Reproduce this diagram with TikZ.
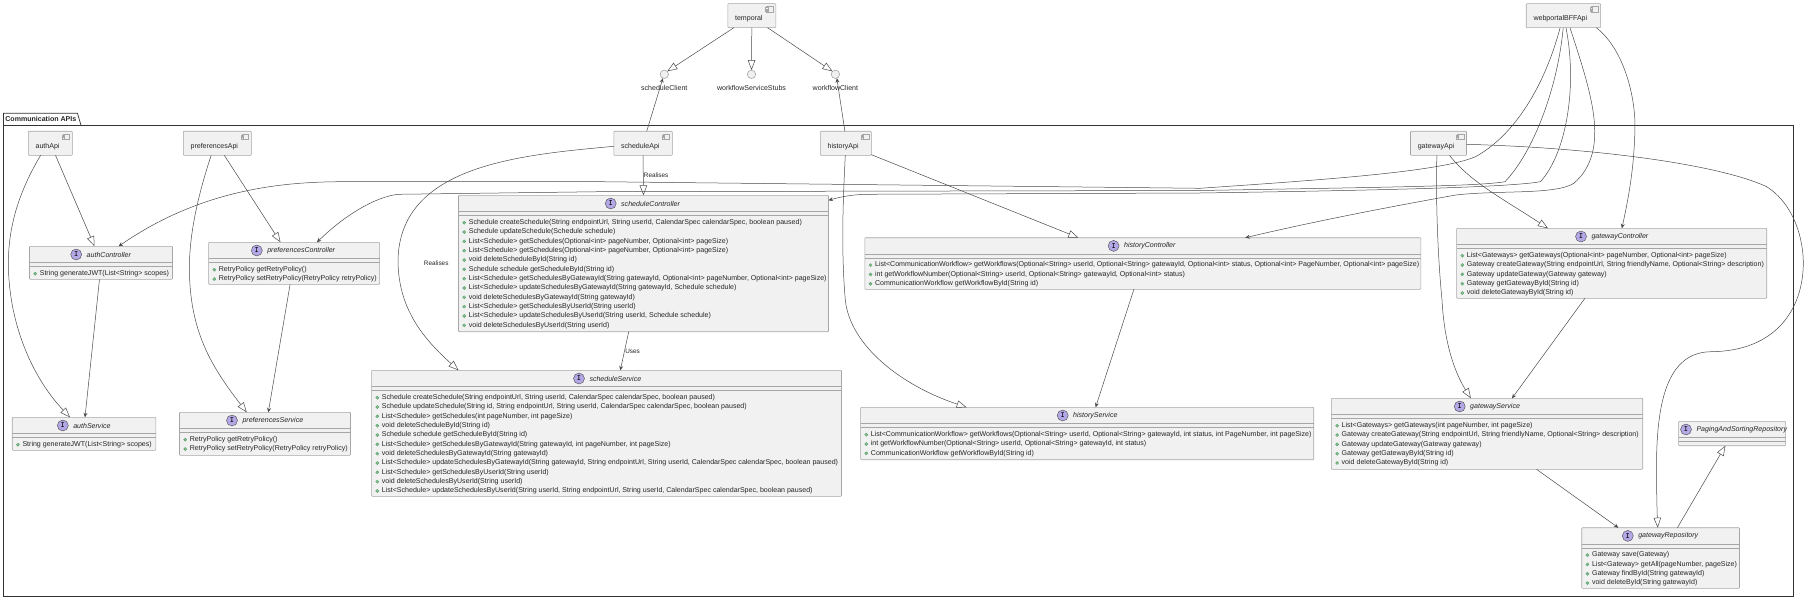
\documentclass[tikz,border=0pt]{standalone}
\usepackage{fontspec}
\setmainfont{Liberation Sans}
\usetikzlibrary{arrows.meta}
\definecolor{boxfill}{HTML}{F1F1F1}
\definecolor{boxline}{HTML}{A6A6A6}
\definecolor{edgeline}{HTML}{4A4A4A}
\definecolor{badgefill}{HTML}{B4A7E5}
\definecolor{dotfill}{HTML}{84BE84}
\definecolor{dotline}{HTML}{4E9A6E}
\tikzset{
  basetext/.style={inner sep=0pt,outer sep=0pt,font=\fontsize{7.05}{8}\selectfont,text=black!85},
  membertext/.style={basetext,anchor=west},
  titletext/.style={basetext,anchor=west,font=\fontsize{7.05}{8}\selectfont\itshape},
  classbox/.style={draw=boxline,fill=boxfill,line width=0.6pt,rounded corners=0.8pt,inner sep=0pt,outer sep=0pt,anchor=north west},
  compbox/.style={classbox},
  compicon/.style={draw=boxline,line width=0.5pt,fill=boxfill,inner sep=0pt,outer sep=0pt,minimum width=6.5pt,minimum height=5.4pt,anchor=north east},
  ifacedot/.style={circle,draw=boxline,fill=boxfill,line width=0.6pt,minimum size=8.4pt,inner sep=0pt,outer sep=0pt},
  badge/.style={circle,draw=edgeline,fill=badgefill,line width=0.4pt,minimum size=11pt,inner sep=0pt,outer sep=0pt,font=\fontsize{8}{8}\selectfont\ttfamily\bfseries},
  memberdot/.style={circle,draw=dotline,fill=dotfill,line width=0.3pt,minimum size=3.2pt,inner sep=0pt,outer sep=0pt},
  realizes/.style={draw=edgeline,line width=0.5pt,-{Triangle[open,length=10pt,width=7.5pt]}},
  uses/.style={draw=edgeline,line width=0.5pt,-{Stealth[length=4.5pt,width=4pt,inset=1.6pt]}},
  edgetext/.style={basetext,font=\fontsize{6.4}{8}\selectfont},
}
\newcommand{\umlclass}[8]{
  \node[classbox,minimum width=#4pt,minimum height=#5pt] (#1) at (#2,#3) {};
  \draw[boxline,line width=0.6pt] ([yshift=-16.4]#1.north west) -- ([yshift=-16.4]#1.north east);
  \draw[boxline,line width=0.6pt] ([yshift=-20.4]#1.north west) -- ([yshift=-20.4]#1.north east);
  \node[badge] (#1-badge) at (#6,#3+8.2) {I};
  \node[titletext] (#1-title) at (#6+10.5,#3+8.4) {#7};
  \foreach \memb [count=\i] in {#8} {
    \pgfmathsetmacro\memy{#3+27.4+(\i-1)*9.33}
    \node[memberdot] (#1-dot\i) at (#2+5.7,\memy) {};
    \node[membertext] (#1-m\i) at (#2+10.3,\memy) {\memb};
  }
}
\newcommand{\umlcomponent}[4]{
  \node[compbox,minimum width=#4pt,minimum height=24pt] (#1) at (#2,#3) {};
  \node[compicon] (#1-icon) at (#2+#4-2.6,#3+3) {};
  \node[compicon,minimum width=2.2pt,minimum height=1.2pt] (#1-tabA) at (#2+#4-8,#3+3.9) {};
  \node[compicon,minimum width=2.2pt,minimum height=1.2pt] (#1-tabB) at (#2+#4-8,#3+6.3) {};
  \node[membertext] (#1-label) at (#2+7.3,#3+15.4) {#1};
}
\newcommand{\umliface}[2]{
  \node[ifacedot] (#1) at (#2,74.3) {};
  \node[basetext] (#1-label) at (#2,87.7) {#1};
}
\begin{document}
\begin{tikzpicture}[x=1pt,y=-1pt]
\useasboundingbox (0,0) rectangle (1817,599);

\node[draw=black!80,line width=0.9pt,anchor=north west,minimum width=1790.1pt,minimum height=470.7pt,inner sep=0pt,outer sep=0pt] (commAPIs) at (3.4,125.3) {};
\coordinate (tabLeft) at (3.4,113.3);
\coordinate (tabRight) at (77.5,113.3);
\coordinate (tabEnd) at (81,125.3);
\draw[black!80,line width=0.7pt] (commAPIs.north west) -- (tabLeft) -- (tabRight) -- (tabEnd);
\node[membertext,font=\fontsize{7.05}{8}\selectfont\bfseries] (commAPIs-label) at (5.4,119.4) {Communication APIs};

\umlcomponent{temporal}{727.8}{3.7}{48}
\umlcomponent{webportalBFFApi}{1526.2}{3.7}{74.4}
\umliface{scheduleClient}{664.3}
\umliface{workflowServiceStubs}{751.5}
\umliface{workflowClient}{835.4}

\umlcomponent{authApi}{28.3}{131.3}{44}
\umlcomponent{preferencesApi}{183.3}{131.3}{68}
\umlcomponent{scheduleApi}{613.8}{131.3}{58.5}
\umlcomponent{historyApi}{820.4}{131.3}{51}
\umlcomponent{gatewayApi}{1410.5}{131.3}{56}

\umlclass{authController}{29.5}{246.3}{143}{33}{76.2}{authController}{{String generateJWT(List<String> scopes)}}
\umlclass{authService}{12.2}{417.3}{143.6}{33}{62.8}{authService}{{String generateJWT(List<String> scopes)}}
\umlclass{preferencesController}{208.6}{242.3}{171}{42}{256.8}{preferencesController}{{RetryPolicy getRetryPolicy()},{RetryPolicy setRetryPolicy(RetryPolicy retryPolicy)}}
\umlclass{preferencesService}{179.5}{412.3}{171}{43}{232}{preferencesService}{{RetryPolicy getRetryPolicy()},{RetryPolicy setRetryPolicy(RetryPolicy retryPolicy)}}
\umlclass{scheduleController}{458.5}{195.3}{370}{136.4}{610.7}{scheduleController}{
  {Schedule createSchedule(String endpointUrl, String userId, CalendarSpec calendarSpec, boolean paused)},
  {Schedule updateSchedule(Schedule schedule)},
  {List<Schedule> getSchedules(Optional<int> pageNumber, Optional<int> pageSize)},
  {List<Schedule> getSchedules(Optional<int> pageNumber, Optional<int> pageSize)},
  {void deleteScheduleById(String id)},
  {Schedule schedule getScheduleById(String id)},
  {List<Schedule> getSchedulesByGatewayId(String gatewayId, Optional<int> pageNumber, Optional<int> pageSize)},
  {List<Schedule> updateSchedulesByGatewayId(String gatewayId, Schedule schedule)},
  {void deleteSchedulesByGatewayId(String gatewayId)},
  {List<Schedule> getSchedulesByUserId(String userId)},
  {List<Schedule> updateSchedulesByUserId(String userId, Schedule schedule)},
  {void deleteSchedulesByUserId(String userId)}}
\umlclass{scheduleService}{371.6}{370.3}{469.9}{126}{579}{scheduleService}{
  {Schedule createSchedule(String endpointUrl, String userId, CalendarSpec calendarSpec, boolean paused)},
  {Schedule updateSchedule(String id, String endpointUrl, String userId, CalendarSpec calendarSpec, boolean paused)},
  {List<Schedule> getSchedules(int pageNumber, int pageSize)},
  {void deleteScheduleById(String id)},
  {Schedule schedule getScheduleById(String id)},
  {List<Schedule> getSchedulesByGatewayId(String gatewayId, int pageNumber, int pageSize)},
  {void deleteSchedulesByGatewayId(String gatewayId)},
  {List<Schedule> updateSchedulesByGatewayId(String gatewayId, String endpointUrl, String userId, CalendarSpec calendarSpec, boolean paused)},
  {List<Schedule> getSchedulesByUserId(String userId)},
  {void deleteSchedulesByUserId(String userId)},
  {List<Schedule> updateSchedulesByUserId(String userId, String endpointUrl, String userId, CalendarSpec calendarSpec, boolean paused)}}
\umlclass{historyController}{864.8}{237.7}{556}{51.6}{1113.6}{historyController}{
  {List<CommunicationWorkflow> getWorkflows(Optional<String> userId, Optional<String> gatewayId, Optional<int> status, Optional<int> PageNumber, Optional<int> pageSize)},
  {int getWorkflowNumber(Optional<String> userId, Optional<String> gatewayId, Optional<int> status)},
  {CommunicationWorkflow getWorkflowById(String id)}}
\umlclass{historyService}{860.6}{407.3}{453.1}{52.4}{1062.7}{historyService}{
  {List<CommunicationWorkflow> getWorkflows(Optional<String> userId, Optional<String> gatewayId, int status, int PageNumber, int pageSize)},
  {int getWorkflowNumber(Optional<String> userId, Optional<String> gatewayId, int status)},
  {CommunicationWorkflow getWorkflowById(String id)}}
\umlclass{gatewayController}{1456.6}{228.3}{310.1}{70}{1581}{gatewayController}{
  {List<Gateways> getGateways(Optional<int> pageNumber, Optional<int> pageSize)},
  {Gateway createGateway(String endpointUrl, String friendlyName, Optional<String> description)},
  {Gateway updateGateway(Gateway gateway)},
  {Gateway getGatewayById(String id)},
  {void deleteGatewayById(String id)}}
\umlclass{gatewayService}{1331.4}{398.3}{311.3}{71}{1459.7}{gatewayService}{
  {List<Gateways> getGateways(int pageNumber, int pageSize)},
  {Gateway createGateway(String endpointUrl, String friendlyName, Optional<String> description)},
  {Gateway updateGateway(Gateway gateway)},
  {Gateway getGatewayById(String id)},
  {void deleteGatewayById(String id)}}
\umlclass{gatewayRepository}{1581.7}{527.7}{157.8}{60.6}{1627.8}{gatewayRepository}{
  {Gateway save(Gateway)},
  {List<Gateway> getAll(pageNumber, pageSize)},
  {Gateway findById(String gatewayId)},
  {void deleteById(String gatewayId)}}
\umlclass{pagingRepository}{1678.6}{421.3}{107}{24.4}{1686}{PagingAndSortingRepository}{}

\draw[realizes] ([xshift=-17.9]temporal.south) -- (scheduleClient.45);
\draw[realizes] (temporal.south) -- (workflowServiceStubs.north);
\draw[realizes] ([xshift=15.8]temporal.south) -- (workflowClient.135);
\draw[uses] ([xshift=3.65]scheduleApi.north) -- (scheduleClient.250);
\draw[uses] ([xshift=-1]historyApi.north) -- (workflowClient.290);

\draw[realizes] ([xshift=5.2]authApi.south) -- ([xshift=-6.5]authController.north);
\draw[realizes] ([xshift=-9.7]authApi.south) .. controls (20,190) and (8,225) .. (8.4,265) .. controls (8.8,320) and (30,375) .. ([xshift=-14]authService.north);
\draw[uses] ([xshift=-1.5]authController.south) -- ([xshift=1]authService.north);

\draw[realizes] ([xshift=7]preferencesApi.south) -- ([xshift=-13.6]preferencesController.north);
\draw[realizes] ([xshift=-6.1]preferencesApi.south) .. controls (198,195) and (189,235) .. (189.4,270) .. controls (190,330) and (210,365) .. ([xshift=-18.2]preferencesService.north);
\draw[uses] ([xshift=-4]preferencesController.south) -- ([xshift=3.3]preferencesService.north);

\draw[realizes] (scheduleApi.south) -- node[edgetext,anchor=west,xshift=0.6pt] (realisesA) {Realises} (scheduleController.north);
\draw[realizes] ([yshift=-3]scheduleApi.west) .. controls (520,155) and (400,165) .. (398,260) .. controls (398,310) and (425,340) .. ([xshift=-148.05]scheduleService.north);
\node[edgetext] (realisesB) at (436.2,263.7) {Realises};
\draw[uses] ([xshift=-14.8]scheduleController.south) -- node[edgetext,anchor=west,xshift=0.8pt] (usesA) {Uses} ([xshift=13.75]scheduleService.north);

\draw[realizes] ([yshift=-11.4]historyApi.east) -- ([xshift=-64.4]historyController.north);
\draw[realizes] ([xshift=-0.6]historyApi.south) .. controls (843,200) and (841,250) .. (845.3,300) .. controls (850,345) and (900,385) .. ([xshift=-120.55]historyService.north);
\draw[uses] ([xshift=-8.9]historyController.south) -- ([xshift=8.45]historyService.north);

\draw[realizes] ([xshift=11]gatewayApi.south) .. controls (1470,182) and (1505,200) .. ([xshift=-63.75]gatewayController.north);
\draw[realizes] ([xshift=-1.6]gatewayApi.south) .. controls (1435.5,200) and (1438,260) .. (1442,300) .. controls (1443.5,330) and (1450,365) .. ([xshift=-16.25]gatewayService.north);
\draw[uses] ([xshift=-26.75]gatewayController.south) -- ([xshift=24.95]gatewayService.north);
\draw[realizes] ([yshift=-1]gatewayApi.east) .. controls (1600,148) and (1720,165) .. (1766.7,186.7) .. controls (1795,205) and (1803,240) .. (1803.3,262) .. controls (1803.5,310) and (1775,351) .. (1711.6,351.7) .. controls (1670,352) and (1656.5,395) .. (1656.5,466.7) .. controls (1656.5,490) and (1657,510) .. ([xshift=-2.9]gatewayRepository.north);
\draw[realizes] ([xshift=16.8]gatewayRepository.north) -- ([xshift=-6.7]pagingRepository.south);
\draw[uses] ([xshift=49.45]gatewayService.south) -- ([xshift=-42.3]gatewayRepository.north);

\draw[uses] ([xshift=-3.3]webportalBFFApi.south) .. controls (1545,85) and (1515,135) .. (1475.5,156.7) .. controls (1440,172) and (1320,180) .. (1200,188.3) -- (600,181.7) -- (344,181.7) .. controls (280,181.7) and (200,190) .. ([xshift=17.6]authController.north);
\draw[uses] ([xshift=-0.2]webportalBFFApi.south) .. controls (1558,85) and (1535,150) .. (1505,181.7) .. controls (1480,186) and (1400,187) .. (1200,190.5) -- (600,191.7) -- (398,194.3) .. controls (375,197) and (345,215) .. ([xshift=22.8]preferencesController.north);
\draw[uses] ([xshift=2.6]webportalBFFApi.south) .. controls (1578,90) and (1565,155) .. (1540.4,181.7) .. controls (1510,187) and (1400,190) .. (1200,193) -- (864,194.3) .. controls (850,195) and (840,197) .. ([yshift=-5]scheduleController.north east);
\draw[uses] ([xshift=6.6]webportalBFFApi.south) .. controls (1590,90) and (1612,150) .. (1573.9,183.3) .. controls (1555,195) and (1500,190) .. (1455.8,195) .. controls (1400,205) and (1320,220) .. ([xshift=102.5]historyController.north);
\draw[uses] ([xshift=32.9]webportalBFFApi.south) .. controls (1625,50) and (1636,100) .. (1634.9,130) .. controls (1634,170) and (1628,200) .. ([xshift=10.25]gatewayController.north);
\end{tikzpicture}
\end{document}
